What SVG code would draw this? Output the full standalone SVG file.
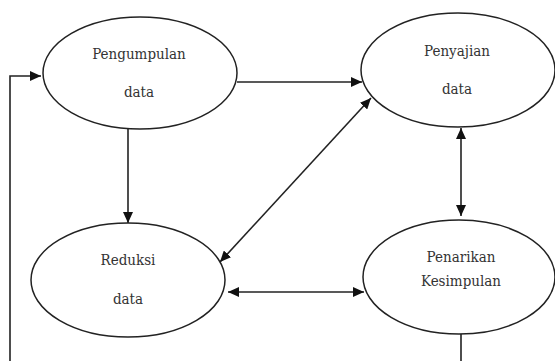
<svg xmlns="http://www.w3.org/2000/svg" width="555" height="361" viewBox="0 0 555 361">
<style>
.node ellipse{fill:#fff;stroke:#222;stroke-width:1.5}
.node text{font-family:'DejaVu Serif Condensed','DejaVu Serif',serif;font-stretch:condensed;font-size:15px;fill:#333;text-anchor:middle}
.conn path{fill:none;stroke:#222;stroke-width:1.6}
</style>
<defs>
<marker id="ah" markerUnits="userSpaceOnUse" markerWidth="12" markerHeight="10" refX="11" refY="5" orient="auto-start-reverse">
<path d="M0,0 L11,5 L0,10 Z" fill="#111"/>
</marker>
</defs>
<rect width="555" height="361" fill="#fff"/>
<g class="conn">
<path d="M237,82 H362" marker-end="url(#ah)"/>
<path d="M128,129 V223" marker-end="url(#ah)"/>
<path d="M220,262 L371,98" marker-start="url(#ah)" marker-end="url(#ah)"/>
<path d="M461,128 V216" marker-start="url(#ah)" marker-end="url(#ah)"/>
<path d="M228,292 H364" marker-start="url(#ah)" marker-end="url(#ah)"/>
<path d="M461,334 V363 H10 V76 H41" marker-end="url(#ah)"/>
</g>
<g id="pengumpulan" class="node">
<ellipse cx="140" cy="73" rx="97" ry="56"/>
<text x="139" y="59">Pengumpulan</text>
<text x="139" y="97">data</text>
</g>
<g id="penyajian" class="node">
<ellipse cx="458" cy="70" rx="97" ry="57"/>
<text x="457" y="56">Penyajian</text>
<text x="457" y="94">data</text>
</g>
<g id="reduksi" class="node">
<ellipse cx="128" cy="280" rx="97" ry="57"/>
<text x="128" y="265">Reduksi</text>
<text x="128" y="304">data</text>
</g>
<g id="penarikan" class="node">
<ellipse cx="459" cy="277" rx="96" ry="57"/>
<text x="461" y="262">Penarikan</text>
<text x="461" y="286">Kesimpulan</text>
</g>
</svg>
